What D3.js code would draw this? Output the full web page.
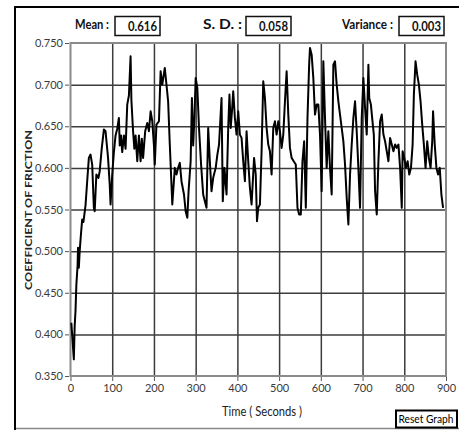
<!DOCTYPE html>
<html>
<head>
<script src="https://d3js.org/d3.v7.min.js"></script>
<style>
  body { margin: 0; background: #fff; }
  svg { display: block; }
  .tick text { font-family: Lato, sans-serif; font-size: 11px; fill: #3a3a3a; }
  .axis path { display: none; }
  .axis line { stroke: #555; }
  .grid line { stroke: #3c3c3c; stroke-width: 1.5px; }
  .grid path { display: none; }
  .lbl { font-family: Lato, sans-serif; }
</style>
</head>
<body>
<script>
// time in seconds and coefficient of friction
var time = [2, 8, 10, 12, 14, 17, 18, 20, 22, 25, 28, 31, 36, 40, 44, 48, 52, 56, 58, 62, 67, 70, 75, 80, 84, 90, 94, 96,
  100, 104, 108, 112, 116, 118, 121, 124, 128, 132, 136, 140, 144, 146, 150, 153, 156, 160, 164, 168, 171, 174, 179,
  184, 188, 192, 196, 200, 202, 206, 212, 216, 220, 226, 230, 234, 238, 242, 244, 250, 254, 258, 262, 266, 272, 276,
  280, 283, 288, 291, 294, 297, 300, 304, 308, 313, 318, 322, 326, 330, 334, 338, 342, 348, 352, 356, 359, 362, 365,
  369, 374, 378, 381, 384, 387, 390, 394, 398, 402, 406, 410, 414, 418, 422, 426, 430, 434, 440, 444, 447, 450, 454,
  458, 462, 466, 470, 474, 478, 482, 486, 490, 494, 498, 502, 506, 510, 514, 518, 522, 526, 530, 535, 540, 544, 548,
  552, 556, 560, 564, 568, 572, 574, 578, 582, 586, 590, 594, 598, 602, 606, 610, 614, 618, 622, 626, 630, 634, 638,
  642, 646, 650, 654, 658, 662, 666, 670, 674, 678, 682, 686, 690, 694, 698, 702, 706, 710, 714, 716, 720, 723, 727,
  730, 734, 738, 742, 746, 750, 754, 758, 762, 766, 770, 774, 778, 782, 786, 790, 794, 796, 800, 804, 808, 812, 816,
  820, 823, 827, 831, 835, 839, 843, 847, 851, 855, 859, 863, 867, 869, 873, 877, 881, 885, 889, 893];
var cof = [0.414, 0.370, 0.410, 0.428, 0.459, 0.483, 0.504, 0.480, 0.500, 0.520, 0.538, 0.535, 0.555, 0.584, 0.612,
  0.616, 0.604, 0.552, 0.548, 0.592, 0.588, 0.596, 0.624, 0.646, 0.644, 0.612, 0.580, 0.556,
  0.592, 0.619, 0.639, 0.647, 0.660, 0.627, 0.639, 0.619, 0.639, 0.623, 0.676, 0.687, 0.734, 0.681, 0.644, 0.623,
  0.639, 0.608, 0.639, 0.608, 0.635, 0.612, 0.644,
  0.654, 0.644, 0.668, 0.656, 0.627, 0.604, 0.652, 0.656, 0.716, 0.700, 0.720, 0.700, 0.680, 0.628, 0.580, 0.556,
  0.600, 0.592, 0.600, 0.606, 0.584, 0.568, 0.548,
  0.540, 0.572, 0.608, 0.684, 0.627, 0.660, 0.708, 0.696, 0.648, 0.604, 0.568, 0.560, 0.552, 0.648, 0.608, 0.572,
  0.588, 0.600, 0.616, 0.628, 0.656, 0.684, 0.560,
  0.600, 0.568, 0.648, 0.688, 0.648, 0.668, 0.692, 0.660, 0.640, 0.668, 0.640, 0.636, 0.608, 0.584, 0.644, 0.608,
  0.576, 0.556, 0.612, 0.592, 0.536, 0.552, 0.556,
  0.620, 0.704, 0.684, 0.648, 0.628, 0.620, 0.592, 0.648, 0.656, 0.640, 0.656, 0.644, 0.624, 0.640, 0.680, 0.716,
  0.664, 0.624, 0.612, 0.608, 0.604, 0.552, 0.544,
  0.544, 0.608, 0.632, 0.552, 0.660, 0.724, 0.744, 0.736, 0.708, 0.664, 0.676, 0.676, 0.640, 0.572, 0.728, 0.660,
  0.600, 0.644, 0.600, 0.568, 0.724, 0.728, 0.700,
  0.680, 0.664, 0.648, 0.632, 0.604, 0.564, 0.532, 0.592, 0.628, 0.660, 0.680, 0.644, 0.600, 0.552, 0.660, 0.708,
  0.672, 0.640, 0.724, 0.684, 0.676, 0.660, 0.640,
  0.572, 0.544, 0.608, 0.656, 0.664, 0.640, 0.632, 0.620, 0.608, 0.636, 0.628, 0.620, 0.628, 0.624, 0.628, 0.600,
  0.552, 0.620, 0.612, 0.600, 0.608, 0.592, 0.600,
  0.628, 0.688, 0.728, 0.712, 0.700, 0.680, 0.652, 0.628, 0.600, 0.632, 0.612, 0.600, 0.632, 0.668, 0.628, 0.600,
  0.592, 0.600, 0.568, 0.552];

var xTicks = [0, 100, 200, 300, 400, 500, 600, 700, 800, 900];
var yTicks = [0.35, 0.40, 0.45, 0.50, 0.55, 0.60, 0.65, 0.70, 0.75];
var statNames = ["Mean :", "S. D. :", "Variance :"];
var statValues = ["0.616", "0.058", "0.003"];

var W = 459, H = 430;
var plot = { left: 70.5, right: 446, top: 43, bottom: 376 };

var svg = d3.select("body").append("svg")
  .attr("width", W)
  .attr("height", H);

// outer panel frame
svg.append("line").attr("x1", 15).attr("y1", 7).attr("x2", 15).attr("y2", H)
  .attr("stroke", "#000").attr("stroke-width", 2);
svg.append("line").attr("x1", 14).attr("y1", 7).attr("x2", W).attr("y2", 7)
  .attr("stroke", "#000").attr("stroke-width", 2);
svg.append("line").attr("x1", 16).attr("y1", 428.5).attr("x2", W).attr("y2", 428.5)
  .attr("stroke", "#888").attr("stroke-width", 1.5);

var x = d3.scaleLinear().domain([0, 900]).range([plot.left, plot.right]);
var y = d3.scaleLinear().domain([0.35, 0.75]).range([plot.bottom, plot.top]);

// grid
svg.append("g").attr("class", "grid")
  .attr("transform", "translate(0," + plot.bottom + ")")
  .call(d3.axisBottom(x).tickValues(xTicks.slice(1, -1)).tickSize(-(plot.bottom - plot.top)).tickFormat(""));
svg.append("g").attr("class", "grid")
  .attr("transform", "translate(" + plot.left + ",0)")
  .call(d3.axisLeft(y).tickValues(yTicks.slice(1, -1)).tickSize(-(plot.right - plot.left)).tickFormat(""));

svg.append("rect")
  .attr("x", plot.left).attr("y", plot.top)
  .attr("width", plot.right - plot.left).attr("height", plot.bottom - plot.top)
  .attr("fill", "none").attr("stroke", "#8a8a8a").attr("stroke-width", 2);

// axes
svg.append("g").attr("class", "axis")
  .attr("transform", "translate(0," + (plot.bottom + 1) + ")")
  .call(d3.axisBottom(x).tickValues(xTicks).tickSize(4).tickPadding(3).tickFormat(d3.format("d")));
svg.append("g").attr("class", "axis")
  .attr("transform", "translate(" + (plot.left - 1.5) + ",0)")
  .call(d3.axisLeft(y).tickValues(yTicks).tickSize(4).tickPadding(2).tickFormat(d3.format(".3f")));

// data line
var line = d3.line()
  .x(function (d, i) { return x(time[i]); })
  .y(function (d) { return y(d); });

svg.append("path")
  .datum(cof)
  .attr("d", line)
  .attr("fill", "none")
  .attr("stroke", "#000")
  .attr("stroke-width", 2)
  .attr("stroke-linejoin", "round");

// axis titles
svg.append("text").attr("class", "lbl")
  .attr("x", 222).attr("y", 416)
  .attr("textLength", 80).attr("lengthAdjust", "spacingAndGlyphs")
  .style("font-size", "13px").attr("fill", "#222")
  .text("Time ( Seconds )");

svg.append("text").attr("class", "lbl")
  .attr("transform", "translate(32,290) rotate(-90)")
  .attr("textLength", 160).attr("lengthAdjust", "spacingAndGlyphs")
  .style("font-size", "10px").style("font-weight", "bold")
  .attr("fill", "#222")
  .text("COEFFICIENT OF FRICTION");

// stats header
var labelX = [75, 203, 342];
var labelW = [34, 39, 51];
var boxX = [115, 246, 399];
statNames.forEach(function (n, i) {
  svg.append("text").attr("class", "lbl")
    .attr("x", labelX[i]).attr("y", 29)
    .attr("textLength", labelW[i]).attr("lengthAdjust", "spacingAndGlyphs")
    .style("font-size", "13px").style("font-weight", "bold").attr("fill", "#111")
    .text(n);
  svg.append("rect")
    .attr("x", boxX[i]).attr("y", 16.5).attr("width", 45).attr("height", 19)
    .attr("fill", "#fff").attr("stroke", "#111").attr("stroke-width", 1.5);
  svg.append("text").attr("class", "lbl")
    .attr("x", boxX[i] + 13).attr("y", 31)
    .attr("textLength", 29).attr("lengthAdjust", "spacingAndGlyphs")
    .style("font-size", "13px").style("font-weight", "bold").attr("fill", "#111")
    .text(statValues[i]);
});

// reset button
svg.append("rect")
  .attr("x", 396).attr("y", 410.5).attr("width", 61).attr("height", 17)
  .attr("fill", "#fff").attr("stroke", "#000").attr("stroke-width", 2);
svg.append("text").attr("class", "lbl")
  .attr("x", 398.5).attr("y", 423)
  .attr("textLength", 55).attr("lengthAdjust", "spacingAndGlyphs")
  .style("font-size", "11.5px").attr("fill", "#000")
  .text("Reset Graph");
</script>
</body>
</html>
